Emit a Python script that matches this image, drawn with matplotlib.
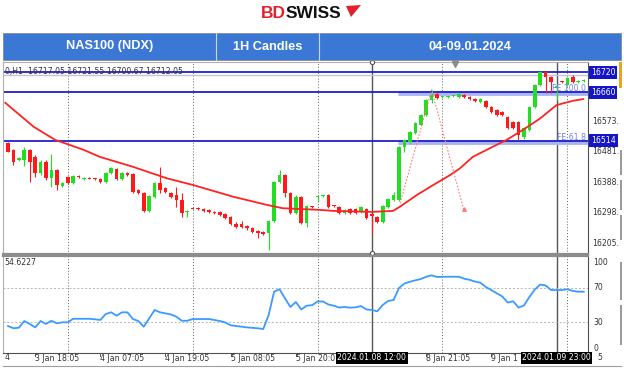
import matplotlib
matplotlib.use("Agg")
import matplotlib.pyplot as plt
from matplotlib.patches import Rectangle, Polygon

W, H = 624, 372

# NAS100 1H candles, 04-09.01.2024
opens = [16506, 16486, 16455, 16455, 16486, 16464, 16415, 16450, 16400, 16425,
         16378, 16403, 16387, 16408, 16399, 16401, 16400, 16398, 16388, 16415,
         16427, 16398, 16415, 16413, 16365, 16357, 16303, 16345, 16387, 16370,
         16357, 16350, 16335, 16299, 16311, 16312, 16308, 16305, 16300, 16298,
         16292, 16283, 16262, 16261, 16257, 16249, 16242, 16237, 16234, 16272,
         16390, 16410, 16355, 16297, 16345, 16265, 16316, 16344, 16346, 16350,
         16319, 16315, 16295, 16307, 16307, 16300, 16307, 16292, 16284, 16268,
         16315, 16335, 16335, 16494, 16511, 16538, 16561, 16591, 16636, 16654,
         16644, 16645, 16647, 16646, 16652, 16645, 16639, 16631, 16634, 16616,
         16606, 16601, 16586, 16571, 16571, 16526, 16546, 16616, 16682, 16722,
         16707, 16672, 16693, 16682, 16707, 16691, 16694]
highs = [16511, 16489, 16465, 16496, 16490, 16471, 16455, 16455, 16473, 16428,
         16388, 16407, 16410, 16411, 16404, 16403, 16402, 16401, 16418, 16433,
         16431, 16418, 16418, 16416, 16367, 16360, 16350, 16390, 16433, 16373,
         16360, 16375, 16357, 16305, 16313, 16315, 16311, 16308, 16303, 16301,
         16295, 16286, 16270, 16272, 16260, 16252, 16245, 16240, 16276, 16393,
         16425, 16413, 16358, 16350, 16348, 16320, 16318, 16350, 16351, 16353,
         16321, 16318, 16308, 16310, 16310, 16318, 16310, 16295, 16287, 16320,
         16340, 16360, 16499, 16519, 16544, 16569, 16594, 16639, 16667, 16657,
         16648, 16649, 16651, 16657, 16655, 16648, 16642, 16642, 16637, 16619,
         16609, 16604, 16589, 16574, 16574, 16554, 16619, 16685, 16725, 16725,
         16710, 16685, 16695, 16705, 16712, 16697, 16700]
lows = [16479, 16440, 16452, 16437, 16390, 16405, 16410, 16395, 16375, 16365,
        16374, 16383, 16383, 16400, 16396, 16397, 16395, 16385, 16385, 16412,
        16394, 16395, 16407, 16357, 16352, 16300, 16300, 16342, 16355, 16357,
        16340, 16315, 16284, 16284, 16307, 16305, 16300, 16297, 16292, 16287,
        16278, 16259, 16251, 16250, 16245, 16235, 16219, 16228, 16184, 16268,
        16387, 16345, 16293, 16293, 16262, 16254, 16312, 16330, 16343, 16312,
        16314, 16292, 16292, 16292, 16292, 16297, 16277, 16234, 16265, 16265,
        16312, 16332, 16332, 16480, 16508, 16535, 16558, 16588, 16626, 16639,
        16642, 16643, 16645, 16643, 16643, 16636, 16631, 16628, 16613, 16598,
        16588, 16588, 16548, 16548, 16516, 16518, 16543, 16613, 16679, 16657,
        16657, 16636, 16689, 16679, 16689, 16688, 16691]
closes = [16480, 16450, 16461, 16486, 16450, 16415, 16450, 16400, 16425, 16380,
          16385, 16387, 16407, 16403, 16401, 16399, 16397, 16388, 16415, 16430,
          16397, 16415, 16410, 16360, 16355, 16303, 16347, 16387, 16365, 16360,
          16343, 16335, 16297, 16301, 16309, 16307, 16303, 16300, 16295, 16290,
          16281, 16262, 16254, 16254, 16249, 16239, 16234, 16232, 16272, 16390,
          16410, 16355, 16297, 16345, 16265, 16317, 16314, 16346, 16348, 16315,
          16317, 16295, 16305, 16295, 16295, 16315, 16280, 16287, 16268, 16317,
          16337, 16350, 16496, 16516, 16541, 16566, 16591, 16636, 16652, 16642,
          16646, 16647, 16649, 16654, 16646, 16639, 16634, 16639, 16616, 16601,
          16591, 16591, 16551, 16551, 16531, 16551, 16616, 16682, 16722, 16707,
          16692, 16680, 16691, 16702, 16692, 16693, 16696]

# moving average (red line)
ma_bar = [-0.5, 4.7, 8.7, 13.8, 16.9, 23.0, 29.3, 34.1, 41.4, 47.7, 50.6, 57.5,
          59.9, 67.0, 70.9, 72.2, 75.3, 78.3, 81.4, 83.2, 85.6, 88.6, 91.8, 94.8,
          98.0, 101.0, 104.0, 105.9]
ma_val = [16628, 16556, 16516, 16487, 16465, 16435, 16400, 16380, 16345, 16320,
          16310, 16305, 16302, 16299, 16302, 16315, 16350, 16380, 16410, 16430,
          16465, 16490, 16516, 16546, 16581, 16621, 16634, 16639]

# oscillator in the lower panel
rsi = [25.6, 23, 23.6, 31.4, 28, 24, 31.4, 28, 31.7, 28.7,
       29.9, 29.9, 34, 34, 34, 34, 33.4, 32.6, 39.5, 41.5,
       37.6, 41.5, 41.5, 33.7, 31.4, 24.8, 34.5, 44.2, 41.5, 40.3,
       39, 36.4, 31.7, 31.7, 33.7, 33.7, 33.7, 33.7, 32.6, 31.4,
       29.7, 26.4, 25.6, 24.8, 24, 23.5, 22.9, 22.1, 38.4, 65.5,
       68.3, 57.8, 47.7, 53.5, 44.8, 49.2, 49.8, 54.1, 54.1, 50.6,
       49.2, 47.1, 47.7, 46.9, 47.3, 48.8, 44.8, 44.2, 42.7, 50,
       54.7, 55.8, 69.8, 75, 77, 78.7, 80.2, 82.8, 84.5, 82.6,
       82.8, 82.9, 82.9, 82.9, 80.6, 79.3, 77.3, 75.9, 70.9, 67.4,
       63.6, 60.1, 52.9, 54.4, 47.1, 49.4, 59.3, 68, 73.8, 72.7,
       67.4, 67.4, 67.4, 68.4, 66.3, 65.5, 65.5]

levels = [16720, 16660, 16514]
bid = 16712
fe_levels = [16660, 16514]
fe_labels = ["FE 100.0", "FE 61.8"]
fe_x = [72.2, 78.0, 83.9]
fe_y = [16325, 16667, 16307]
price_ticks = [16573, 16481, 16388, 16298, 16205]
rsi_ticks = [100, 70, 30, 0]
grid_bars = [11, 34, 57, 80, 103]
tick_bars = [5, 17, 29, 41, 53, 65, 77, 89, 101]
# only the visible parts of the time labels (others sit under the black boxes)
time_bars = [5, 17, 29, 41, 53, 77, 89]
time_labels = ["3 Jan 18:05", "4 Jan 07:05", "4 Jan 19:05", "5 Jan 08:05",
               "5 Jan 20:0", "8 Jan 21:05", "9 Jan 1"]
marked_bars = [67, 101]
marked_labels = ["2024.01.08 12:00", "2024.01.09 23:00"]


def px_box(l, t, r, b):
    return [l / W, 1 - b / H, (r - l) / W, (b - t) / H]


def fx(x):
    return x / W


def fy(y):
    return 1 - y / H


GREEN = "#22dd22"
RED = "#ff1a1a"
BLUE = "#1f1fd0"
FS = 5.6

fig = plt.figure(figsize=(W / 100, H / 100), dpi=100)
fig.patch.set_facecolor("white")

# ---- logo + header bar
fig.text(fx(261), fy(14), "BD", color="#e4202c", fontsize=12.5, fontweight="bold",
         family="Liberation Sans", ha="left", va="center")
fig.text(fx(286), fy(14), "SWISS", color="#111111", fontsize=12.5, fontweight="bold",
         family="Liberation Sans", ha="left", va="center")
fig.patches.append(Polygon([(fx(346), fy(6)), (fx(361), fy(5)), (fx(351), fy(17))],
                           closed=True, transform=fig.transFigure, fc="#e4202c", ec="none"))

fig.patches.append(Rectangle((fx(3), fy(60)), 618 / W, 27 / H, transform=fig.transFigure,
                             fc="#3b78d6", ec="#8a8a8a", lw=0.6))
for xd in [216, 319]:
    fig.add_artist(plt.Line2D([fx(xd), fx(xd)], [fy(60), fy(33)], transform=fig.transFigure,
                              color="#c9d8f2", lw=0.8))
for xc, txt in [(110, "NAS100 (NDX)"), (268, "1H Candles"), (470, "04-09.01.2024")]:
    fig.text(fx(xc), fy(46.5), txt, color="white", fontsize=9.2, fontweight="bold",
             family="Liberation Sans", ha="center", va="center")

# ---- main price panel
ax = fig.add_axes(px_box(3, 62, 588, 254))
ax.set_xlim(-0.92, 106.8)
ax.set_ylim(16172, 16751)
ax.set_xticks([])
ax.set_yticks([])
for s in ["top", "left"]:
    ax.spines[s].set_color("#b0b0b0")
ax.spines["right"].set_color("#505050")
ax.spines["bottom"].set_color("#8c8c8c")
ax.spines["bottom"].set_linewidth(1.6)

for b in grid_bars:
    ax.axvline(b, color="#606060", ls=(0, (1, 2)), lw=0.7, zorder=1)
for b in marked_bars:
    ax.axvline(b, color="#555555", lw=1.0, zorder=1)

ax.axhline(bid, color="#c4c4d4", lw=1.0, zorder=1)
for lv in fe_levels:
    ax.hlines(lv - 3, 71.8, 106.8, color="#aab4f2", lw=3.5, zorder=1)
for lv in levels:
    ax.axhline(lv, color=BLUE, lw=1.3, zorder=2)

for i in range(len(opens)):
    o, h, l, c = opens[i], highs[i], lows[i], closes[i]
    col = GREEN if c >= o else RED
    ax.vlines(i, l, h, color=col, lw=0.8, zorder=3)
    lo = min(o, c)
    ht = max(abs(c - o), 3)
    ax.bar(i, ht, bottom=lo, width=0.66, color=col, zorder=3, linewidth=0)

ax.plot(ma_bar, ma_val, color="#ff2222", lw=1.3, zorder=4)
ax.plot(fe_x, fe_y, color="#ff7a7a", ls=(0, (1.5, 1.5)), lw=0.8, zorder=4)
ax.plot(fe_x[-1], fe_y[-1], marker="^", ms=2.5, color="#ff7a7a", zorder=4)

for lv, lab in zip(fe_levels, fe_labels):
    ax.text(106.4, lv + 10, lab, color="#6f7ff0", fontsize=FS, ha="right", va="center", zorder=5)

ytr = ax.get_yaxis_transform()
for p in price_ticks:
    ax.text(1 + 4 / 585, p, f"{p}.", transform=ytr, fontsize=FS, color="#333333",
            ha="left", va="center", clip_on=False)
for lv in levels:
    ax.text(1 + 3 / 585, lv, f"{lv}", transform=ytr, fontsize=FS, color="white",
            ha="left", va="center", clip_on=False,
            bbox=dict(boxstyle="square,pad=0.25", fc="#1414c8", ec="none"))

ax.plot(67, 16751, "o", ms=3, mfc="white", mec="#555555", mew=0.8, clip_on=False, zorder=6)
ax.plot(67, 16175, "o", ms=3, mfc="white", mec="#555555", mew=0.8, clip_on=False, zorder=6)
ax.plot(82.3, 16744, "v", ms=4, color="#8a8a8a", clip_on=False, zorder=6)

ax.text(0.004, 0.975, "0,H1  16717.05 16721.55 16700.67 16712.05", transform=ax.transAxes,
        fontsize=FS, color="#333333", ha="left", va="top")

# ---- oscillator panel
ax2 = fig.add_axes(px_box(3, 256, 588, 353))
ax2.set_xlim(-0.92, 106.8)
ax2.set_ylim(-5.8, 107)
ax2.set_xticks([])
ax2.set_yticks([])
ax2.spines["top"].set_color("#8c8c8c")
ax2.spines["top"].set_linewidth(1.6)
ax2.spines["left"].set_color("#b0b0b0")
ax2.spines["right"].set_color("#505050")
ax2.spines["bottom"].set_color("#505050")

for b in grid_bars:
    ax2.axvline(b, color="#606060", ls=(0, (1, 2)), lw=0.7, zorder=1)
for b in marked_bars:
    ax2.axvline(b, color="#555555", lw=1.0, zorder=1)
for g in [70, 30]:
    ax2.axhline(g, color="#b5b5b5", ls=(0, (2, 2)), lw=0.7, zorder=1)

ax2.plot(range(len(rsi)), rsi, color="#3a9bff", lw=1.3, zorder=3)

ytr2 = ax2.get_yaxis_transform()
for t in rsi_ticks:
    ax2.text(1 + 5 / 585, t, str(t), transform=ytr2, fontsize=FS, color="#333333",
             ha="left", va="center", clip_on=False)
ax2.text(0.002, 0.93, "54.6227", transform=ax2.transAxes, fontsize=FS, color="#333333",
         ha="left", va="center")

xtr = ax2.get_xaxis_transform()
for b in tick_bars:
    ax2.plot([b, b], [0, -0.03], transform=xtr, color="#505050", lw=0.7, clip_on=False)
for b, lab in zip(time_bars, time_labels):
    ax2.text(b, -0.055, lab, transform=xtr, fontsize=FS, color="#333333",
             ha="left", va="center", clip_on=False)
for b, lab in zip(marked_bars, marked_labels):
    ax2.text(b, -0.05, lab, transform=xtr, fontsize=FS, color="white", ha="center",
             va="center", clip_on=False, zorder=10,
             bbox=dict(boxstyle="square,pad=0.2", fc="black", ec="none"))

fig.text(fx(5), fy(358), "4", fontsize=FS, color="#333333", ha="left", va="center")
fig.text(fx(597), fy(358), "5", fontsize=FS, color="#333333", ha="left", va="center")

# frame bits on the right and bottom
fig.patches.append(Rectangle((fx(619), fy(88)), 2.5 / W, 26 / H, transform=fig.transFigure,
                             fc="#f0a020", ec="none"))
for y0, y1 in [(150, 175), (180, 210), (215, 240), (262, 300), (305, 345)]:
    fig.patches.append(Rectangle((fx(620), fy(y1)), 2 / W, (y1 - y0) / H,
                                 transform=fig.transFigure, fc="#9a9a9a", ec="none"))
fig.add_artist(plt.Line2D([fx(3), fx(621)], [fy(366), fy(366)], transform=fig.transFigure,
                          color="#a0a0a0", lw=0.8))

fig.savefig("out.png", dpi=100, facecolor="white")
